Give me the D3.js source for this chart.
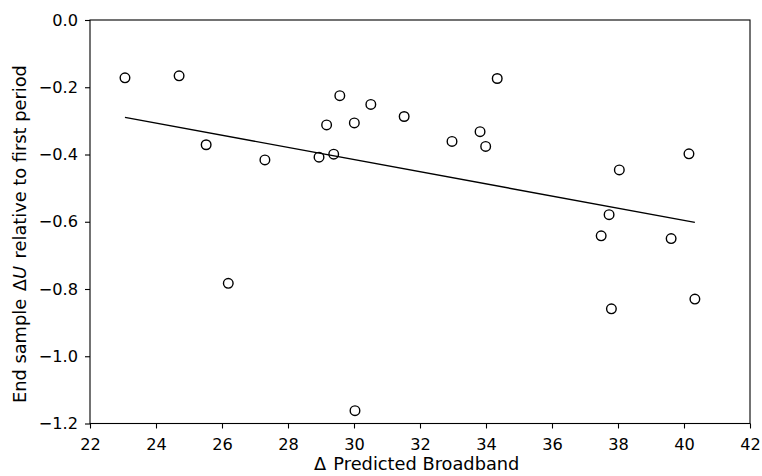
<!DOCTYPE html>
<html><head><meta charset="utf-8">
<script src="https://cdn.jsdelivr.net/npm/d3@7"></script>
<style>body{margin:0;background:#fff}svg{font-family:"DejaVu Sans",sans-serif}</style>
</head><body><svg id="c" width="762" height="476"></svg>
<script>
const broadband = [23.06,24.70,25.52,26.19,27.30,28.94,29.17,29.385,29.57,30.01,30.03,30.51,31.52,32.97,33.82,33.99,34.34,37.49,37.73,37.80,38.04,39.61,40.15,40.33];
const deltaU   = [-0.172,-0.166,-0.371,-0.783,-0.416,-0.408,-0.312,-0.399,-0.225,-0.306,-1.162,-0.251,-0.287,-0.361,-0.332,-0.376,-0.174,-0.642,-0.579,-0.859,-0.446,-0.650,-0.398,-0.830];
const xTicks = [22,24,26,28,30,32,34,36,38,40,42];
const yTicks = [0.0,-0.2,-0.4,-0.6,-0.8,-1.0,-1.2];

const svg = d3.select("#c");
const L=90, R=750, T=20, B=423.5;
const x = d3.scaleLinear().domain([22,42]).range([L,R]);
const y = d3.scaleLinear().domain([-1.2,0]).range([B,T]);
const fs = 16.2, fl = 17.8;

// fit line (OLS)
const n = broadband.length;
const mx = d3.mean(broadband), my = d3.mean(deltaU);
let sxy=0,sxx=0;
for(let i=0;i<n;i++){sxy+=(broadband[i]-mx)*(deltaU[i]-my);sxx+=(broadband[i]-mx)**2;}
const slope=sxy/sxx, icpt=my-slope*mx;
const xe = d3.extent(broadband);
svg.append("line").attr("x1",x(xe[0])).attr("x2",x(xe[1]))
  .attr("y1",y(icpt+slope*xe[0])).attr("y2",y(icpt+slope*xe[1]))
  .attr("stroke","#000").attr("stroke-width",1.4);

svg.append("g").selectAll("circle").data(broadband.map((b,i)=>[b,deltaU[i]])).join("circle")
  .attr("cx",d=>x(d[0])).attr("cy",d=>y(d[1])).attr("r",4.8)
  .attr("fill","none").attr("stroke","#000").attr("stroke-width",1.4);

const xa = svg.append("g").attr("transform",`translate(0,${B})`)
  .call(d3.axisBottom(x).tickValues(xTicks).tickFormat(d3.format("d")).tickSize(5).tickPadding(9.5));
const ya = svg.append("g").attr("transform",`translate(${L},0)`)
  .call(d3.axisLeft(y).tickValues(yTicks).tickFormat(d3.format(".1f")).tickSize(5).tickPadding(7));
[xa,ya].forEach(a=>{a.select(".domain").remove();a.selectAll("text").attr("font-size",fs).attr("font-family","DejaVu Sans").attr("fill","#000");a.selectAll("line").attr("stroke","#000").attr("stroke-width",1.1);});
svg.append("rect").attr("x",L).attr("y",T).attr("width",R-L).attr("height",B-T)
  .attr("fill","none").attr("stroke","#000").attr("stroke-width",1.1);

const xl = svg.append("text").attr("x",314).attr("y",470).attr("font-size",fl);
xl.append("tspan").text("Δ");
xl.append("tspan").attr("dx",1.5).text(" Predicted Broadband");
const yl = svg.append("text").attr("transform",`translate(26,403) rotate(-90)`).attr("font-size",fl);
yl.append("tspan").text("End sample ");
yl.append("tspan").attr("dx",2).text("Δ");
yl.append("tspan").attr("font-style","italic").text("U");
yl.append("tspan").attr("dx",2).text(" relative to first period");
</script></body></html>
